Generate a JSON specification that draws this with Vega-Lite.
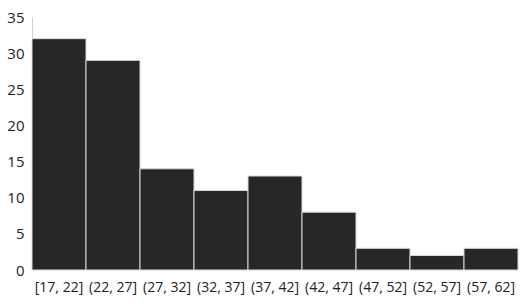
{
  "$schema": "https://vega.github.io/schema/vega-lite/v6.json",
  "autosize": "none",
  "padding": {"left": 32, "top": 17, "right": 10, "bottom": 38},
  "width": 486,
  "height": 253,
  "background": "white",
  "config": {"view": {"stroke": null}},
  "data": {"values": [
    {"bin": "[17, 22]", "count": 32},
    {"bin": "(22, 27]", "count": 29},
    {"bin": "(27, 32]", "count": 14},
    {"bin": "(32, 37]", "count": 11},
    {"bin": "(37, 42]", "count": 13},
    {"bin": "(42, 47]", "count": 8},
    {"bin": "(47, 52]", "count": 3},
    {"bin": "(52, 57]", "count": 2},
    {"bin": "(57, 62]", "count": 3}
  ]},
  "mark": {"type": "bar", "fill": "#252728", "stroke": "#d9d9d9", "strokeWidth": 1},
  "encoding": {
    "x": {"field": "bin", "type": "nominal", "sort": null,
      "scale": {"paddingInner": 0, "paddingOuter": 0},
      "axis": {"title": null, "labelAngle": 0, "domain": false, "ticks": false, "labelPadding": 10,
        "labelFont": "Open Sans", "labelFontSize": 14, "labelColor": "#222"}},
    "y": {"field": "count", "type": "quantitative",
      "scale": {"domain": [0, 35], "nice": false},
      "axis": {"title": null, "values": [0, 5, 10, 15, 20, 25, 30, 35], "grid": false, "ticks": false,
        "domain": true, "domainColor": "#d0d0d0", "labelPadding": 8,
        "labelFont": "Open Sans", "labelFontSize": 15, "labelColor": "#222"}}
  }
}
